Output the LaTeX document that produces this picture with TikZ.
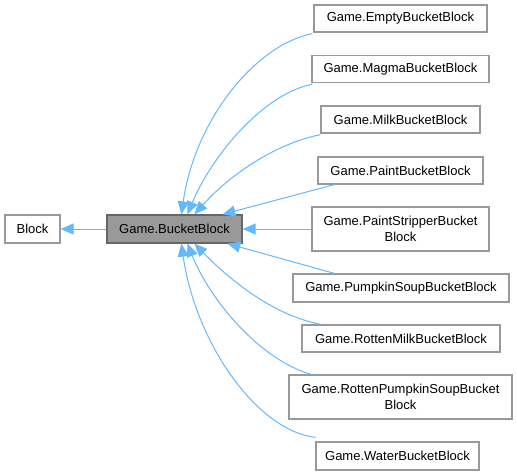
\documentclass[tikz,border=0pt]{standalone}
\usepackage{fontspec}
\setmainfont{Liberation Sans}
\usetikzlibrary{arrows.meta}
\definecolor{edgeblue}{HTML}{63B8FF}
\definecolor{boxgray}{HTML}{999999}
\definecolor{boxborder}{HTML}{999999}
\definecolor{darkborder}{HTML}{666666}
\begin{document}
\begin{tikzpicture}[x=1pt,y=-1pt,
  cls/.style={draw=boxborder,fill=white,line width=1.2pt,inner sep=0pt,align=center,
    font=\fontsize{13}{16}\selectfont,text=black},
  clsh/.style={cls,fill=boxgray,draw=darkborder},
  inh/.style={draw=edgeblue,line width=1pt,-{Triangle[length=13pt,width=11pt,fill=edgeblue]}}]
\useasboundingbox (0,0) rectangle (517,475);
\node[cls,minimum width=55pt,minimum height=28pt] (block) at (32.5,229) {Block};
\node[clsh,minimum width=135pt,minimum height=28pt] (bb) at (174.5,229) {Game.BucketBlock};
\node[cls,minimum width=173pt,minimum height=27pt] (empty) at (400.5,18.5) {Game.EmptyBucketBlock};
\node[cls,minimum width=177pt,minimum height=27pt] (magma) at (400.5,69) {Game.MagmaBucketBlock};
\node[cls,minimum width=159pt,minimum height=27pt] (milk) at (400.5,119.5) {Game.MilkBucketBlock};
\node[cls,minimum width=165pt,minimum height=27pt] (paint) at (400.5,170.5) {Game.PaintBucketBlock};
\node[cls,minimum width=177pt,minimum height=44pt] (strip) at (400.5,229) {Game.PaintStripperBucket\\Block};
\node[cls,minimum width=216pt,minimum height=28pt] (pump) at (401,288) {Game.PumpkinSoupBucketBlock};
\node[cls,minimum width=198pt,minimum height=27pt] (rmilk) at (401,338.5) {Game.RottenMilkBucketBlock};
\node[cls,minimum width=223pt,minimum height=44pt] (rpump) at (400.5,397) {Game.RottenPumpkinSoupBucket\\Block};
\node[cls,minimum width=163pt,minimum height=28pt] (water) at (397.5,456) {Game.WaterBucketBlock};
% inheritance edges
\draw[inh] (bb.west) -- (block.east);
\draw[inh] ([xshift=-1pt,yshift=-1pt]empty.south west) .. controls (255,45) and (195,120) .. ([xshift=75pt]bb.north west);
\draw[inh] ([xshift=1pt,yshift=-1pt]magma.south west) .. controls (260,95) and (210,160) .. ([xshift=81pt]bb.north west);
\draw[inh] ([xshift=0pt,yshift=-1pt]milk.south west) .. controls (270,145) and (225,180) .. ([xshift=88pt]bb.north west);
\draw[inh] ([xshift=17pt]paint.south west) -- ([xshift=116pt]bb.north west);
\draw[inh] (strip.west) -- (bb.east);
\draw[inh] ([xshift=42pt]pump.north west) -- ([xshift=121pt]bb.south west);
\draw[inh] ([xshift=20pt]rmilk.north west) .. controls (270,315) and (225,275) .. ([xshift=88pt]bb.south west);
\draw[inh] ([xshift=23pt]rpump.north west) .. controls (260,360) and (210,300) .. ([xshift=81pt]bb.south west);
\draw[inh] ([xshift=0pt,yshift=4pt]water.north west) .. controls (255,430) and (195,340) .. ([xshift=75pt]bb.south west);
\end{tikzpicture}
\end{document}
